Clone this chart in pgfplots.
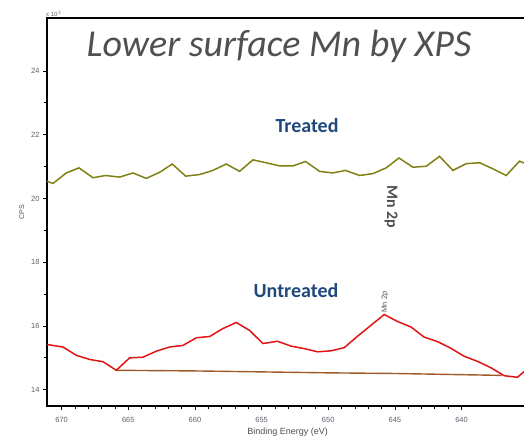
\documentclass[border=0pt]{standalone}
\usepackage{fontspec}
\setmainfont{Liberation Sans}
\newfontfamily\calibri{Carlito}
\usepackage{pgfplots}
\pgfplotsset{compat=1.18}
\definecolor{olivel}{RGB}{128,128,20}
\definecolor{redl}{RGB}{225,20,20}
\definecolor{brownl}{RGB}{160,90,40}
\definecolor{titlegray}{RGB}{80,80,80}
\definecolor{navy}{RGB}{31,73,125}
\definecolor{tickgray}{RGB}{95,95,110}
\begin{document}
\begin{tikzpicture}[x=1pt,y=1pt]
\useasboundingbox (0,0) rectangle (524,437);
\begin{axis}[
  at={(47pt,31pt)}, anchor=south west,
  scale only axis, width=481.2pt, height=388pt,
  xmin=635, xmax=671.1, x dir=reverse,
  ymin=13.49, ymax=25.66,
  xtick={640,645,...,670}, minor x tick num=4,
  ytick={14,16,...,24}, minor y tick num=1,
  tick align=outside, tick pos=left,
  major tick length=4pt, minor tick length=3pt,
  every tick/.style={black, line width=0.8pt},
  axis line style={line width=1.3pt},
  /pgf/number format/assume math mode=true,
  tick label style={font=\fontsize{7.5}{8}\selectfont, text=tickgray},
  xticklabel style={yshift=-4pt},
  xlabel={Binding Energy (eV)},
  ylabel={CPS},
  label style={font=\fontsize{9}{10}\selectfont, text=titlegray},
  xlabel style={yshift=2pt},
  ylabel style={font=\fontsize{7}{8}\selectfont},
  clip=true,
]
\addplot[olivel, line width=1.5pt] coordinates {
(671.6,20.62) (670.65,20.47) (669.65,20.80) (668.7,20.96) (667.65,20.65) (666.7,20.72)
(665.65,20.67) (664.65,20.80) (663.65,20.63) (662.65,20.82) (661.7,21.08) (660.7,20.70)
(659.65,20.75) (658.65,20.88) (657.65,21.08) (656.65,20.85) (655.65,21.21) (654.65,21.12)
(653.65,21.02) (652.65,21.02) (651.7,21.16) (650.65,20.85) (649.65,20.80) (648.7,20.88)
(647.65,20.72) (646.65,20.78) (645.65,20.96) (644.7,21.27) (643.65,20.98) (642.65,21.01)
(641.65,21.32) (640.65,20.88) (639.65,21.09) (638.65,21.12) (637.65,20.93) (636.65,20.72)
(635.65,21.17) (634.65,21.0)
};
\addplot[brownl, line width=1.4pt] coordinates {
(665.9,14.61) (660,14.59) (655,14.56) (650,14.53) (645,14.51) (641,14.48) (637.0,14.45)
};
\addplot[redl, line width=1.5pt] coordinates {
(671.1,15.42) (669.9,15.34) (668.9,15.08) (667.9,14.95) (666.9,14.88) (665.9,14.61)
(664.9,15.00) (663.9,15.02) (662.9,15.21) (661.9,15.34) (660.9,15.39) (659.9,15.63)
(658.9,15.67) (657.9,15.92) (656.9,16.11) (655.9,15.86) (654.9,15.45) (653.8,15.52)
(652.8,15.37) (651.8,15.29) (650.8,15.19) (649.8,15.22) (648.8,15.32) (647.8,15.68)
(646.8,16.02) (645.8,16.36) (644.8,16.14) (643.8,15.97) (642.8,15.65) (641.8,15.51)
(640.8,15.30) (639.8,15.05) (638.8,14.89) (637.8,14.69) (636.8,14.44) (635.8,14.39)
(634.8,14.76)
};
\end{axis}
\draw[line width=1.3pt] (47,419) -- (530,419);
\node[anchor=south west, inner sep=0pt, font=\fontsize{6}{7}\selectfont, text=tickgray] at (46,420) {x 10$^3$};
\node[anchor=base, inner sep=0pt, font=\calibri\itshape\fontsize{38}{40}\selectfont, text=titlegray] at (279,380) {Lower surface Mn by XPS};
\node[anchor=base, inner sep=0pt, font=\calibri\bfseries\fontsize{20}{22}\selectfont, text=navy] at (307,304.3) {Treated};
\node[anchor=base, inner sep=0pt, font=\calibri\bfseries\fontsize{20}{22}\selectfont, text=navy] at (296,139.3) {Untreated};
\node[rotate=-90, font=\calibri\bfseries\fontsize{16}{17}\selectfont, text=titlegray] at (391,230) {Mn 2p};
\node[rotate=90, font=\fontsize{7.5}{8}\selectfont, text=titlegray] at (385,135) {Mn 2p};
\end{tikzpicture}
\end{document}
